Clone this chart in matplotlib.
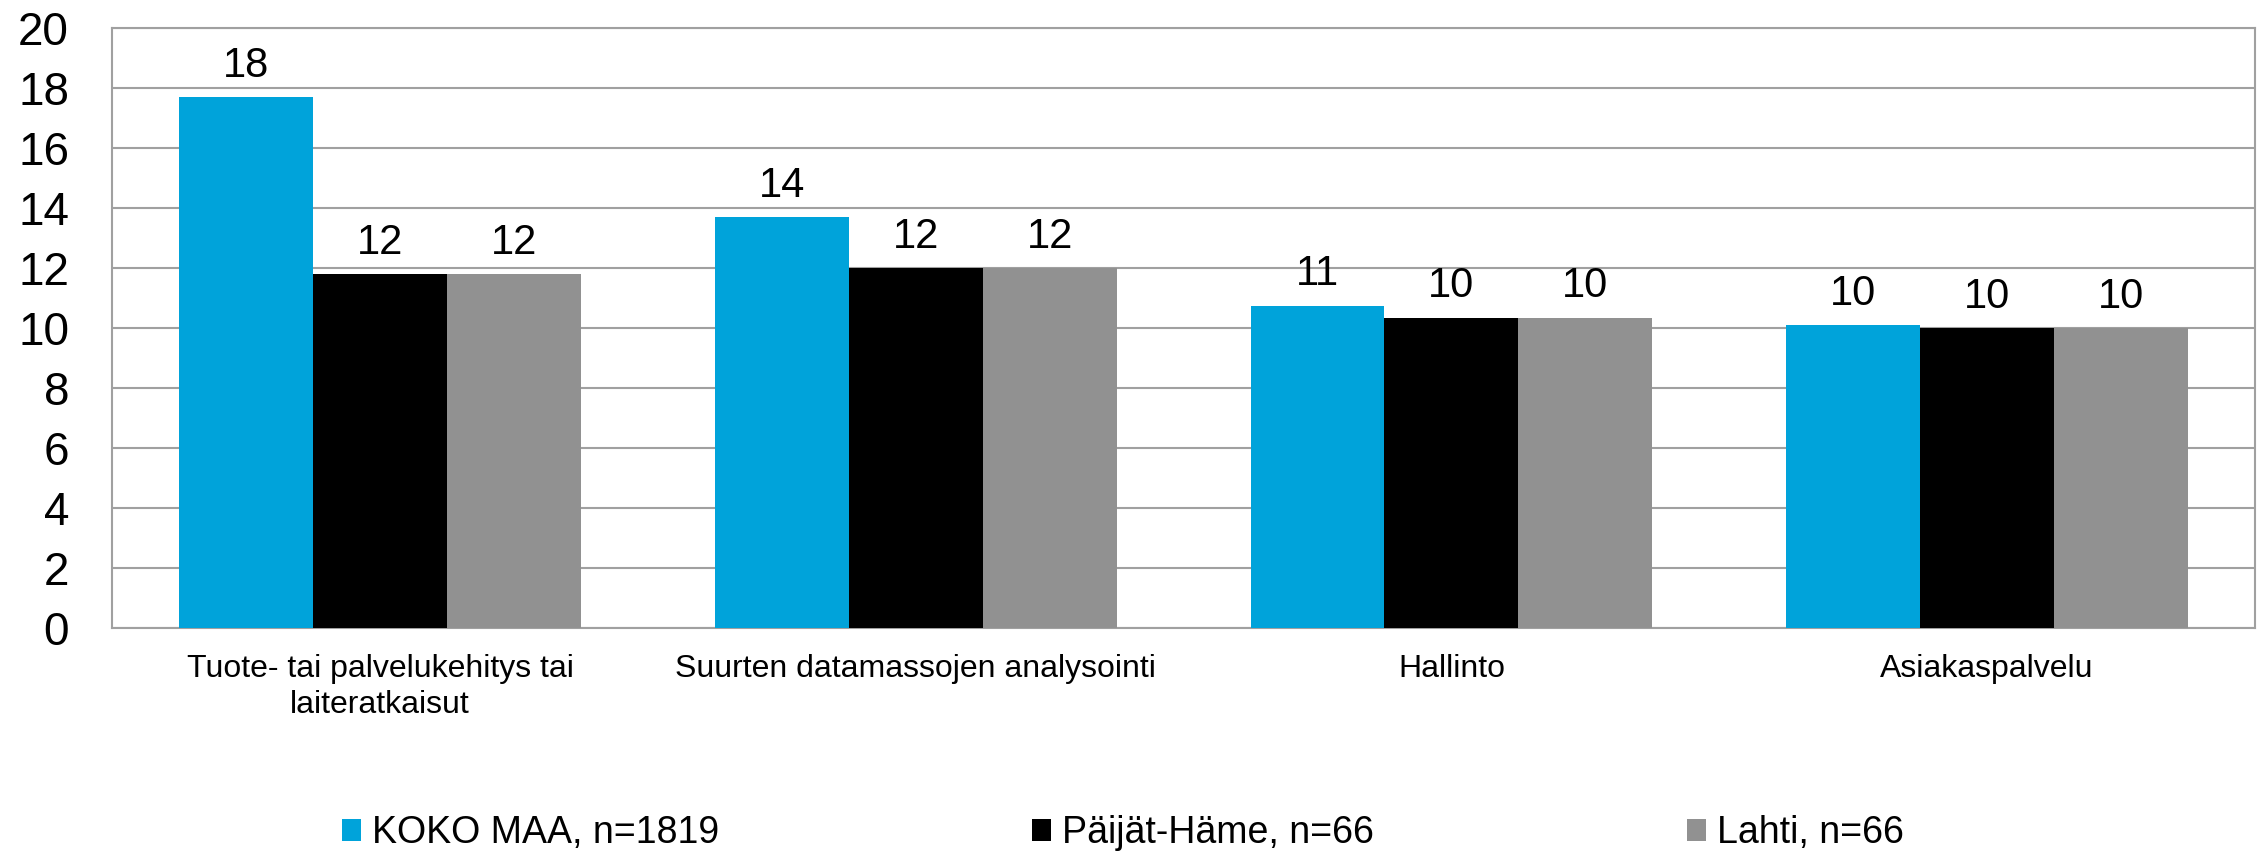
import matplotlib
matplotlib.use("Agg")
import matplotlib.pyplot as plt
import numpy as np

plt.rcParams['font.family'] = ['Liberation Sans', 'DejaVu Sans']

# ============================================================
# Data
# ============================================================

categories = [
    "Tuote- tai palvelukehitys tai\nlaiteratkaisut",
    "Suurten datamassojen analysointi",
    "Hallinto",
    "Asiakaspalvelu",
]

series_names = ["KOKO MAA, n=1819", "Päijät-Häme, n=66", "Lahti, n=66"]

koko_maa = [17.7, 13.7, 10.75, 10.1]
paijat_hame = [11.8, 12.0, 10.35, 10.0]
lahti = [11.8, 12.0, 10.35, 10.0]

colors = ["#00A3DA", "#000000", "#919191"]

# ============================================================
# Plot
# ============================================================

fig = plt.figure(figsize=(22.6, 8.52), dpi=100)
ax = fig.add_axes([0.0496, 0.2629, 0.9482, 0.7042])

x = np.arange(len(categories))
width = 0.25

for i, (vals, name, col) in enumerate(zip([koko_maa, paijat_hame, lahti], series_names, colors)):
    bars = ax.bar(x + (i - 1) * width, vals, width, color=col, label=name, zorder=3)
    ax.bar_label(bars, labels=[f"{v:.0f}" for v in vals], padding=8, fontsize=30)

ax.set_xlim(-0.5, len(categories) - 0.5)
ax.set_ylim(0, 20)
ax.set_yticks(np.arange(0, 21, 2))
ax.set_xticks(x)
ax.set_xticklabels(categories, fontsize=23, linespacing=1.25)
ax.tick_params(axis='y', labelsize=33, length=0, pad=31)
ax.tick_params(axis='x', length=0, pad=19)

ax.grid(axis='y', color='#a0a0a0', linewidth=1.5, zorder=0)
for s in ax.spines.values():
    s.set_color('#a0a0a0')
    s.set_linewidth(1.5)

fig.legend(loc='center', bbox_to_anchor=(0.497, 0.022), ncol=3, frameon=False,
           fontsize=27, handlelength=0.5, handleheight=0.5, handletextpad=0.3,
           columnspacing=8.35)

fig.savefig("out.png", dpi=100)
